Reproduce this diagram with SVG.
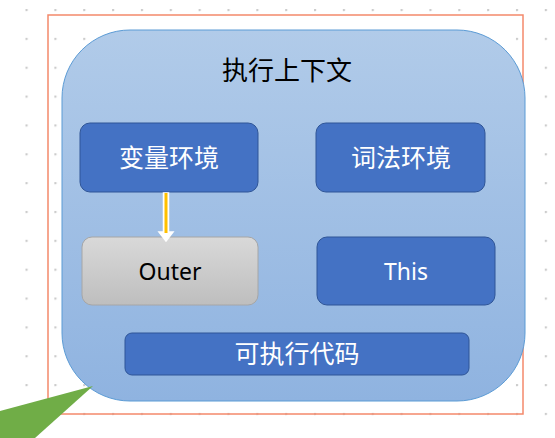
<svg xmlns="http://www.w3.org/2000/svg" width="555" height="438" viewBox="0 0 555 438">
  <defs>
    <pattern id="dots" x="25.5" y="9" width="28.85" height="28.85" patternUnits="userSpaceOnUse">
      <circle cx="1" cy="1" r="1.3" fill="#CCCCCC"/>
    </pattern>
    <linearGradient id="bigGrad" x1="0" y1="0" x2="0" y2="1">
      <stop offset="0" stop-color="#B1CBE9"/>
      <stop offset="1" stop-color="#8FB3E0"/>
    </linearGradient>
    <linearGradient id="grayGrad" x1="0" y1="0" x2="0" y2="1">
      <stop offset="0" stop-color="#D9D9D9"/>
      <stop offset="1" stop-color="#BEBEBE"/>
    </linearGradient>
    <style>
      .blue { fill: #4472C4; stroke: #2F5597; stroke-width: 1; }
      .wt { font-family: "Noto Sans CJK SC", "Liberation Sans", sans-serif; font-size: 25px; fill: #FFFFFF; text-anchor: middle; }
      .bt { font-family: "Noto Sans CJK SC", "Liberation Sans", sans-serif; font-size: 26px; fill: #000000; text-anchor: middle; }
    </style>
  </defs>
  <rect width="555" height="438" fill="#FFFFFF"/>
  <rect width="555" height="438" fill="url(#dots)"/>
  <rect x="48" y="15" width="475" height="399" fill="none" stroke="#F4896B" stroke-width="1.5"/>
  <g id="context">
    <rect x="62" y="30" width="463" height="371" rx="68" ry="68" fill="url(#bigGrad)" stroke="#5B9BD5" stroke-width="1"/>
    <text class="bt" x="287" y="80">执行上下文</text>
  </g>
  <g id="callout">
    <polygon points="93,386 0,411 0,438 35,438" fill="#70AD47"/>
  </g>
  <g id="var-env">
    <rect class="blue" x="80" y="123" width="178" height="69" rx="10"/>
    <text class="wt" x="169" y="167">变量环境</text>
  </g>
  <g id="lex-env">
    <rect class="blue" x="316" y="123" width="169" height="69" rx="10"/>
    <text class="wt" x="401" y="167">词法环境</text>
  </g>
  <g id="outer">
    <rect x="82" y="237" width="176" height="68" rx="10" fill="url(#grayGrad)" stroke="#A6A6A6" stroke-width="1"/>
    <text x="170" y="280" font-family="Noto Sans, Liberation Sans, sans-serif" font-size="23" fill="#000" text-anchor="middle">Outer</text>
  </g>
  <g id="this">
    <rect class="blue" x="317" y="237" width="178" height="68" rx="10"/>
    <text x="406" y="280" font-family="Noto Sans, Liberation Sans, sans-serif" font-size="23" fill="#FFFFFF" text-anchor="middle">This</text>
  </g>
  <g id="code">
    <rect class="blue" x="125" y="333" width="344" height="42" rx="7"/>
    <text class="wt" x="297" y="363">可执行代码</text>
  </g>
  <g id="connectors">
    <path d="M163.5,193 L168.5,193 L168.5,232 L173,232 L166,241 L159,232 L163.5,232 Z" fill="#FFFFFF" stroke="#FFFFFF" stroke-width="1.5"/>
    <rect x="164.5" y="193" width="3" height="40" fill="#FFC000"/>
  </g>
</svg>
